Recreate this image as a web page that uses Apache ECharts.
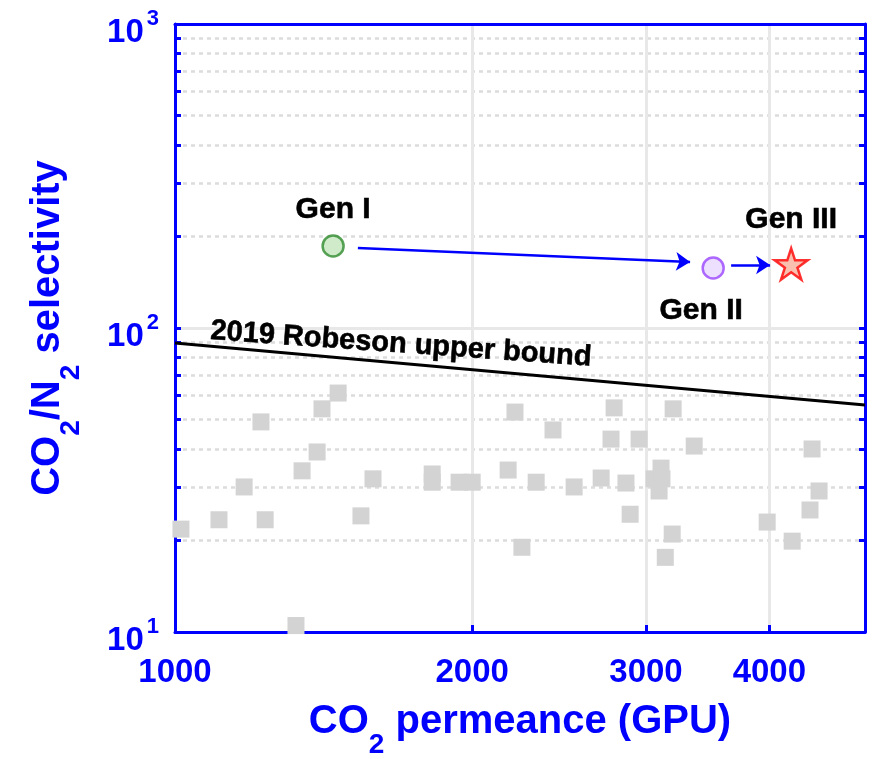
<!DOCTYPE html>
<html><head><meta charset="utf-8">
<script src="https://cdn.jsdelivr.net/npm/echarts@6/dist/echarts.min.js"></script>
<style>html,body{margin:0;padding:0;background:#fff}#c{width:882px;height:759px}</style>
</head><body><div id="c"></div>
<script>
const FONT = "'Liberation Sans', Arial, Helvetica, sans-serif";
const BLUE = '#0000ff';

// axis ticks
const xTicks = [1000, 2000, 3000, 4000];
const xTickMarks = [2000, 3000, 4000];
const yMajor = [10, 100, 1000];
const yAllTicks = [10,20,30,40,50,60,70,80,90,100,200,300,400,500,600,700,800,900,1000];

// literature membranes (grey squares): [permeance GPU, selectivity]
const literaturePoints = [
  [1014,21.8],[1108,23.4],[1175,30.0],[1222,49.1],[1234,23.4],[1326,10.5],
  [1345,33.9],[1393,39.1],[1409,54.2],[1463,61.1],[1543,24.1],[1587,31.9],
  [1822,33.1],[1822,31.1],[1940,31.1],[2000,31.1],
  [2210,52.9],[2415,46.2],[2785,54.6],[3196,54.2],[2765,43.1],[2952,43.1],
  [3357,40.9],[2175,34.1],[2322,31.1],[2537,30.0],[2702,32.1],[2863,30.9],
  [3107,34.6],[3057,31.9],[3114,31.9],[3093,29.1],[2891,24.4],[2246,19.0],
  [3189,21.0],[3138,17.6],
  [4419,40.0],[4492,29.1],[4398,25.2],[3980,23.0],[4219,19.9]
];

// 2019 Robeson upper bound (straight on log-log)
const robesonBound = [[1000,89.3],[5000,55.8]];
const robesonLabelPos = [1694, 88.3];

// this work
const genI = [1446, 186.1];
const genII = [3509, 157.6];
const genIII = [4209, 162.4];

// arrows
const arrows = [
  [[1532,183.4],[3325,164.9]],
  [[3659,161.2],[4007,161.2]]
];

const STAR = 'path://M50 0 L61.23 34.55 L97.55 34.55 L68.16 55.9 L79.39 90.45 L50 69.1 L20.61 90.45 L31.84 55.9 L2.45 34.55 L38.77 34.55 Z';

const titleRich = {
  t: {fontSize: 40, fontWeight: 'bold', color: BLUE, fontFamily: FONT},
  s: {fontSize: 28, fontWeight: 'bold', color: BLUE, fontFamily: FONT, padding: [46,0,0,0]}
};
const genLabel = {fontSize: 30, fontWeight: 'bold', color: '#000000', fontFamily: FONT,
  textBorderColor: '#000000', textBorderWidth: 0.6, opacity: 1};

const chart = echarts.init(document.getElementById('c'), null, {renderer: 'canvas'});
chart.setOption({
  backgroundColor: '#fff',
  animation: false,
  grid: {left: 175, right: 17, top: 24, bottom: 127, containLabel: false, outerBoundsMode: 'none'},
  xAxis: [{
    type: 'log', logBase: 10, min: 1000, max: 5000, position: 'bottom',
    axisLine: {onZero: false, lineStyle: {color: BLUE, width: 3}},
    axisTick: {inside: true, length: 7, customValues: xTickMarks, lineStyle: {color: BLUE, width: 3}},
    axisLabel: {customValues: xTicks, formatter: v => String(Math.round(v)), color: BLUE, fontSize: 33, fontWeight: 'bold', fontFamily: FONT, margin: 24},
    splitLine: {show: true, lineStyle: {color: '#e8e8e8', width: 3}},
    name: '{t|CO}{s|2}{t| permeance (GPU)}', nameLocation: 'middle', nameGap: 53,
    nameTextStyle: {rich: titleRich}
  }, {
    type: 'log', logBase: 10, min: 1000, max: 5000, position: 'top',
    axisLine: {onZero: false, lineStyle: {color: BLUE, width: 3}},
    axisTick: {show: false}, axisLabel: {show: false}, splitLine: {show: false}
  }],
  yAxis: [{
    type: 'log', logBase: 10, min: 10, max: 1000, position: 'left',
    axisLine: {onZero: false, lineStyle: {color: BLUE, width: 3}},
    axisTick: {inside: true, length: 6, customValues: yAllTicks, lineStyle: {color: BLUE, width: 3}},
    axisLabel: {
      customValues: yMajor, margin: 16,
      formatter: v => '{b|10}{p|' + Math.round(Math.log10(v)) + '}',
      rich: {
        b: {fontSize: 33, fontWeight: 'bold', color: BLUE, fontFamily: FONT, padding: [18,0,0,0]},
        p: {fontSize: 22, fontWeight: 'bold', color: BLUE, fontFamily: FONT, padding: [0,0,10,3]}
      }
    },
    splitLine: {show: true, lineStyle: {color: '#dcdcdc', width: 2.5, type: [4, 4]}},
    name: '{t|CO}{s|2}{t|/N}{s|2}{t| selectivity}', nameLocation: 'middle', nameGap: 90, nameRotate: 90,
    nameTextStyle: {rich: titleRich}
  }, {
    type: 'log', logBase: 10, min: 10, max: 1000, position: 'right',
    axisLine: {onZero: false, lineStyle: {color: BLUE, width: 3}},
    axisTick: {inside: true, length: 6, customValues: yAllTicks, lineStyle: {color: BLUE, width: 3}},
    axisLabel: {show: false}, splitLine: {show: false}
  }, {
    type: 'log', logBase: 10, min: 10, max: 1000, position: 'left',
    axisLine: {show: false},
    axisTick: {show: false, customValues: [100]},
    axisLabel: {show: false},
    splitLine: {show: true, lineStyle: {color: '#e8e8e8', width: 3}}
  }],
  series: [{
    type: 'scatter', name: 'literature', data: literaturePoints,
    symbol: 'rect', symbolSize: 17, itemStyle: {color: '#d3d3d3', opacity: 1}, z: 2
  }, {
    type: 'line', name: 'Robeson', data: robesonBound, showSymbol: false, symbol: 'none',
    lineStyle: {color: '#000', width: 3}, z: 3
  }, {
    type: 'scatter', name: 'Robeson label', data: [robesonLabelPos], symbolSize: 1,
    itemStyle: {color: 'rgba(0,0,0,0)'}, silent: true, z: 4,
    label: Object.assign({show: true, position: 'inside', rotate: -4, formatter: '2019 Robeson upper bound'},
      genLabel, {fontSize: 29})
  }, {
    type: 'lines', coordinateSystem: 'cartesian2d', z: 5,
    data: arrows.map(a => ({coords: a})),
    symbol: ['none', 'arrow'], symbolSize: 14,
    lineStyle: {color: BLUE, width: 2.5, opacity: 1}
  }, {
    type: 'scatter', name: 'Gen I', data: [genI], symbol: 'circle', symbolSize: 21, z: 6,
    itemStyle: {color: '#c3e6bd', borderColor: '#2e8b2e', borderWidth: 2.5},
    label: Object.assign({show: true, position: 'top', distance: 10, formatter: 'Gen I'}, genLabel)
  }, {
    type: 'scatter', name: 'Gen II', data: [genII], symbol: 'circle', symbolSize: 21, z: 6,
    itemStyle: {color: '#e8d8ff', borderColor: '#9a45ff', borderWidth: 2.5},
    label: Object.assign({show: true, position: 'bottom', distance: 16, offset: [-12, 0], formatter: 'Gen II'}, genLabel)
  }, {
    type: 'scatter', name: 'Gen III', data: [genIII], symbol: STAR, symbolKeepAspect: true, symbolSize: 33, z: 6,
    itemStyle: {color: '#f8b09c', borderColor: '#ff0000', borderWidth: 2.5},
    label: Object.assign({show: true, position: 'top', distance: 12, formatter: 'Gen III'}, genLabel)
  }]
});
</script></body></html>
